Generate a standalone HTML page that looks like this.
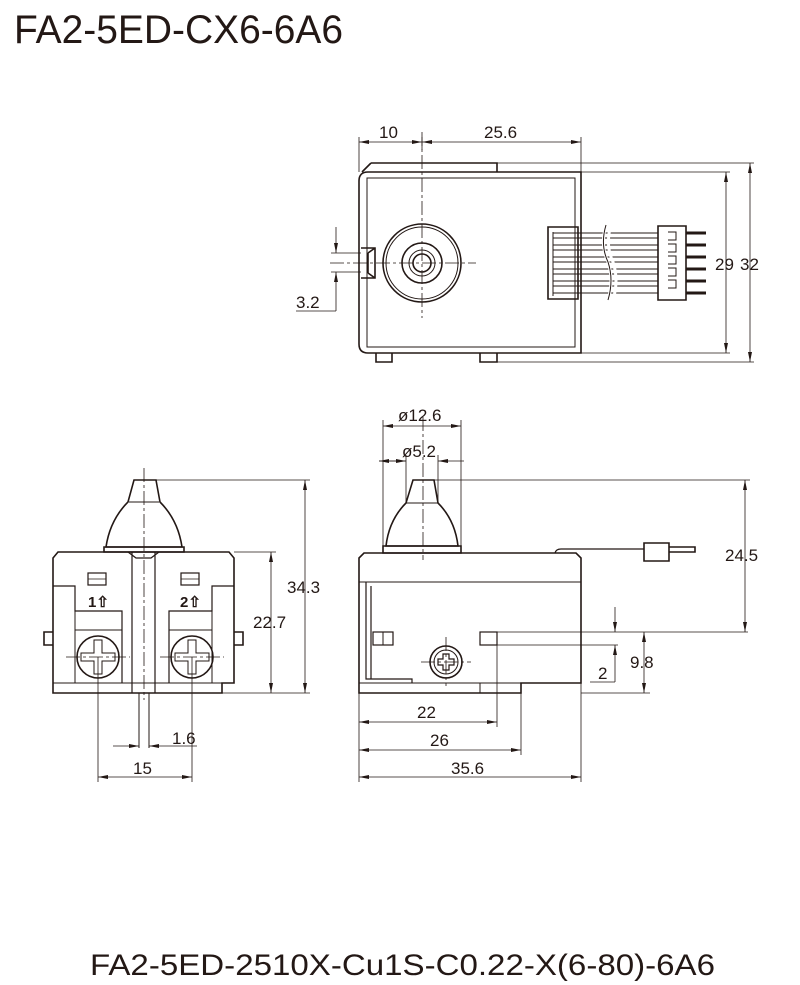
<!DOCTYPE html>
<html><head><meta charset="utf-8"><style>
html,body{margin:0;padding:0;background:#fff;}
svg{display:block;}
text{font-family:"Liberation Sans",sans-serif;fill:#231815;}
</style></head><body>
<svg width="800" height="985" viewBox="0 0 800 985" xmlns="http://www.w3.org/2000/svg">
<defs>
<marker id="a" viewBox="0 0 10 4" refX="10" refY="2" markerWidth="10" markerHeight="4" orient="auto-start-reverse" markerUnits="userSpaceOnUse"><path d="M0,0 L10,2 L0,4 z" fill="#231815"/></marker>
</defs>
<text x="14" y="43" font-size="40" textLength="329" lengthAdjust="spacingAndGlyphs">FA2-5ED-CX6-6A6</text>
<text x="90" y="975" font-size="30" textLength="625" lengthAdjust="spacingAndGlyphs">FA2-5ED-2510X-Cu1S-C0.22-X(6-80)-6A6</text>

<g fill="none" stroke="#231815" stroke-width="1.6">
<!-- ===== TOP VIEW ===== -->
<path d="M371,163 L497,163 L497,172 M371,163 L362,172"/>
<path d="M368,172 L581,172 L581,353 L368,353 Q359,353 359,344 L359,181 Q359,172 368,172 Z"/>
<path d="M367,178 L575,178 L575,347 L367,347 Z" stroke-width="1"/>
<path d="M376,353 L376,362 L392,362 L392,353 M480,353 L480,362 L497,362 L497,353"/>
<path d="M361,248 L375,248 L375,278 L361,278 M368,253 L375,248 M368,273 L375,278 M368,253 L368,273"/>
<circle cx="422" cy="263" r="39"/><circle cx="422" cy="263" r="36" stroke-width="1"/>
<circle cx="422" cy="263" r="20"/><circle cx="422" cy="263" r="13" stroke-width="1"/><circle cx="422" cy="263" r="9"/>
<!-- connector -->
<path d="M548,227 L578,227 L578,299 L548,299 Z"/>
<path d="M553,232 L553,296" stroke-width="1"/>
<path d="M658,226 L686,226 L686,300 L658,300 Z"/>
<path d="M668,232 h8 v8 h-8 M668,244 h8 v8 h-8 M668,256 h8 v8 h-8 M668,268 h8 v8 h-8 M668,280 h8 v8 h-8" stroke-width="1"/>
<g stroke-width="1">
<path d="M553,233 H658 M553,238 H658 M553,245 H658 M553,250 H658 M553,257 H658 M553,262 H658 M553,269 H658 M553,274 H658 M553,281 H658 M553,286 H658 M553,293 H658"/>
</g>
<path d="M606,225 Q600,245 608,262 Q614,280 608,300 M611,225 Q605,245 613,262 Q619,280 613,300" stroke="#fff" stroke-width="3"/>
<path d="M606,225 Q600,245 608,262 Q614,280 608,300" stroke-width="1"/>
<g stroke-width="3"><path d="M686,233 H706 M686,245 H706 M686,257 H706 M686,269 H706 M686,281 H706 M686,293 H706"/></g>
<!-- center lines -->
<path d="M422,132 L422,318 M330,263 L476,263" stroke-width="0.8" stroke-dasharray="14,3,3,3"/>
<!-- dims -->
<path d="M359,137 V172 M581,137 V172 M422,137 V150" stroke-width="0.8"/>
<path d="M359,142 H422" stroke-width="0.8" marker-start="url(#a)" marker-end="url(#a)"/>
<path d="M422,142 H581" stroke-width="0.8" marker-start="url(#a)" marker-end="url(#a)"/>
<path d="M497,163 H754 M581,172 H730 M581,353 H730 M497,362 H754" stroke-width="0.8"/>
<path d="M726,172 V353" stroke-width="0.8" marker-start="url(#a)" marker-end="url(#a)"/>
<path d="M750,163 V362" stroke-width="0.8" marker-start="url(#a)" marker-end="url(#a)"/>
<path d="M331,253 H361 M331,272 H361" stroke-width="0.8"/>
<path d="M336,227 V253" stroke-width="0.8" marker-end="url(#a)"/>
<path d="M336,311 V272" stroke-width="0.8" marker-end="url(#a)"/>
<path d="M296,311 H336" stroke-width="0.8"/>
</g>
<text x="379" y="138" font-size="17">10</text>
<text x="484" y="138" font-size="17">25.6</text>
<text x="715" y="270" font-size="17">29</text>
<text x="740" y="270" font-size="17">32</text>
<text x="296" y="308" font-size="17">3.2</text>

<g fill="none" stroke="#231815" stroke-width="1.6">
<!-- ===== LEFT VIEW ===== -->
<path d="M134,480 L156,480 L160,502 Q178,520 182,547 L106,547 Q110,520 128,502 Z"/>
<path d="M129,502 H159" stroke-width="1"/>
<path d="M104,547 H184 L184,552 L104,552 Z"/>
<path d="M58,552 L229,552 L234,558 L234,683 L222,683 L222,693 L53,693 L53,558 Z"/>
<path d="M53,683 H234" stroke-width="1"/>
<path d="M132,552 L132,693 M155,552 L155,693 M128,552 L136,558 L151,558 L159,552" stroke-width="1.2"/>
<path d="M53,586 H75 V611 H122 V683 M234,586 H212 V611 H169 V683" stroke-width="1.2"/>
<path d="M75,611 V683 M212,611 V683 M75,630 H122 M169,630 H212" stroke-width="1"/>
<rect x="88" y="573" width="18" height="12" stroke-width="1.2"/>
<rect x="181" y="573" width="18" height="12" stroke-width="1.2"/>
<path d="M88,579 H106 M181,579 H199" stroke-width="0.8"/>
<path d="M53,632 H44 V645 H53 M234,632 H243 V645 H234"/>
<circle cx="98" cy="657" r="21"/><circle cx="192" cy="657" r="21"/>
<path d="M94,640 h8 v13 h13 v8 h-13 v13 h-8 v-13 h-13 v-8 h13 z M188,640 h8 v13 h13 v8 h-13 v13 h-8 v-13 h-13 v-8 h13 z" stroke-width="1"/>
<path d="M139,693 V748 M149,693 V748" stroke-width="1"/>
<path d="M144,468 V700 M66,657 H130 M160,657 H224" stroke-width="0.8" stroke-dasharray="14,3,3,3"/>
<!-- dims -->
<path d="M98,657 V782 M192,657 V782" stroke-width="0.8"/>
<path d="M98,777 H192" stroke-width="0.8" marker-start="url(#a)" marker-end="url(#a)"/>
<path d="M113,746 H139" stroke-width="0.8" marker-end="url(#a)"/>
<path d="M197,746 H149" stroke-width="0.8" marker-end="url(#a)"/>
<path d="M156,480 H310 M234,552 H276 M222,693 H310" stroke-width="0.8"/>
<path d="M305,480 V693" stroke-width="0.8" marker-start="url(#a)" marker-end="url(#a)"/>
<path d="M271,552 V693" stroke-width="0.8" marker-start="url(#a)" marker-end="url(#a)"/>
</g>
<text x="88" y="607" font-size="15" font-weight="bold">1⇧</text>
<text x="180" y="607" font-size="15" font-weight="bold">2⇧</text>
<text x="287" y="593" font-size="17">34.3</text>
<text x="253" y="628" font-size="17">22.7</text>
<text x="172" y="744" font-size="17">1.6</text>
<text x="133" y="774" font-size="17">15</text>

<g fill="none" stroke="#231815" stroke-width="1.6">
<!-- ===== RIGHT VIEW ===== -->
<path d="M413,480 L434,480 L438,503 Q455,520 458,546 L386,546 Q389,520 406,503 Z"/>
<path d="M406,503 H438" stroke-width="1"/>
<path d="M383,546 H461 V553 H383 Z"/>
<path d="M364,553 L576,553 L581,558 L581,683 L521,683 L521,693 L359,693 L359,558 Z"/>
<path d="M359,582 H581 M359,683 H521 M480,683 V693" stroke-width="1"/>
<path d="M366,582 V679 H412 V683 M371,586 V679" stroke-width="1.2"/>
<path d="M555,553 Q556,549 561,549 H644" stroke-width="1.2"/>
<path d="M644,543 H669 V561 H644 Z M669,547 H695 V552 H669"/>
<rect x="373" y="632" width="20" height="13" stroke-width="1.2"/><path d="M383,632 V645" stroke-width="1"/>
<rect x="480" y="632" width="17" height="13" stroke-width="1.2"/>
<path d="M497,632 H748 M497,645 H618" stroke-width="0.8"/>
<circle cx="446" cy="662" r="16"/><circle cx="446" cy="662" r="12" stroke-width="1"/>
<path d="M443,654 h6 v5 h5 v6 h-5 v5 h-6 v-5 h-5 v-6 h5 z" stroke-width="1.2"/>
<path d="M421,662 H471 M446,637 V686 M423,417 V560" stroke-width="0.8" stroke-dasharray="14,3,3,3"/>
<!-- dims -->
<path d="M383,420 V546 M461,420 V546 M406,455 V503 M438,455 V503" stroke-width="0.8"/>
<path d="M383,426 H461" stroke-width="0.8" marker-start="url(#a)" marker-end="url(#a)"/>
<path d="M379,461 H406" stroke-width="0.8" marker-start="url(#a)"/>
<path d="M379,461 H406" stroke-width="0.8" marker-end="url(#a)"/>
<path d="M464,461 H438" stroke-width="0.8" marker-end="url(#a)"/>
<path d="M434,480 H750" stroke-width="0.8"/>
<path d="M745,480 V632" stroke-width="0.8" marker-start="url(#a)" marker-end="url(#a)"/>
<path d="M581,693 H650" stroke-width="0.8"/>
<path d="M644,632 V693" stroke-width="0.8" marker-start="url(#a)" marker-end="url(#a)"/>
<path d="M615,607 V632" stroke-width="0.8" marker-end="url(#a)"/>
<path d="M615,682 V645" stroke-width="0.8" marker-end="url(#a)"/>
<path d="M590,682 H615" stroke-width="0.8"/>
<path d="M359,693 V782 M497,645 V727 M521,693 V755 M581,683 V782" stroke-width="0.8"/>
<path d="M359,722 H497" stroke-width="0.8" marker-start="url(#a)" marker-end="url(#a)"/>
<path d="M359,750 H521" stroke-width="0.8" marker-start="url(#a)" marker-end="url(#a)"/>
<path d="M359,777 H581" stroke-width="0.8" marker-start="url(#a)" marker-end="url(#a)"/>
</g>
<text x="398" y="421" font-size="17">ø12.6</text>
<text x="402" y="457" font-size="17">ø5.2</text>
<text x="725" y="561" font-size="17">24.5</text>
<text x="630" y="668" font-size="17">9.8</text>
<text x="598" y="679" font-size="17">2</text>
<text x="417" y="718" font-size="17">22</text>
<text x="430" y="746" font-size="17">26</text>
<text x="451" y="774" font-size="17">35.6</text>
</svg>
</body></html>
